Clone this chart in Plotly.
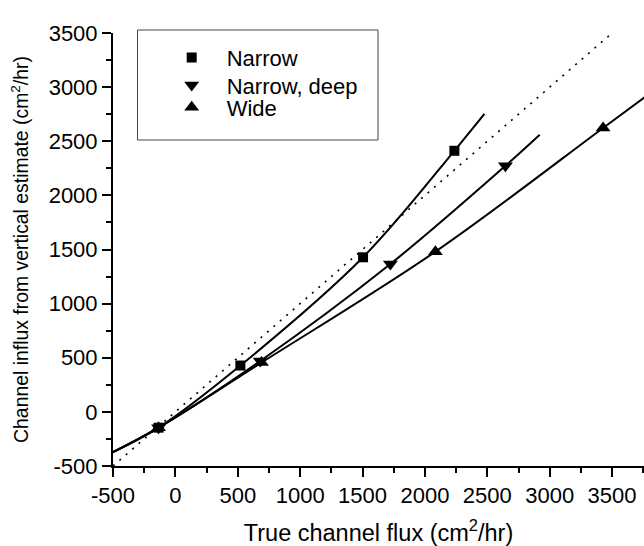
import plotly.graph_objects as go

# Measured points for each channel geometry (true flux vs. vertical estimate), cm^2/hr
narrow_x = [-135, 521, 1504, 2236]
narrow_y = [-146, 428, 1428, 2412]

deep_x = [-135, 680, 1723, 2645]
deep_y = [-146, 470, 1366, 2273]

wide_x = [-135, 690, 2084, 3428]
wide_y = [-146, 455, 1480, 2623]

# Fitted trend curves (sampled along each curve)
narrow_fit_x = [-500, -135, 521, 1504, 2236, 2477]
narrow_fit_y = [-372, -146, 428, 1428, 2412, 2752]

deep_fit_x = [-500, -135, 680, 1723, 2645, 2920]
deep_fit_y = [-372, -146, 470, 1366, 2273, 2560]

wide_fit_x = [-500, -135, 690, 2084, 3428, 3771]
wide_fit_y = [-372, -146, 455, 1480, 2623, 2915]

# 1:1 reference line
one_to_one = [-500, 3500]

# Tick labels (plain hyphen for negatives)
x_tick_vals = [-500, 0, 500, 1000, 1500, 2000, 2500, 3000, 3500]
x_tick_text = ["-500", "0", "500", "1000", "1500", "2000", "2500", "3000", "3500"]
y_tick_vals = [-500, 0, 500, 1000, 1500, 2000, 2500, 3000, 3500]
y_tick_text = ["-500", "0", "500", "1000", "1500", "2000", "2500", "3000", "3500"]

FONT = "Arial, Liberation Sans, sans-serif"
W, H = 644, 546
ML, MR, MT, MB = 113, 0, 33, 80

fig = go.Figure()

fig.add_trace(go.Scatter(x=one_to_one, y=one_to_one, mode="lines",
                         line=dict(color="black", width=1.6, dash="2px,6.5px"),
                         showlegend=False, hoverinfo="skip"))

for fx, fy in [(narrow_fit_x, narrow_fit_y), (deep_fit_x, deep_fit_y), (wide_fit_x, wide_fit_y)]:
    fig.add_trace(go.Scatter(x=fx, y=fy, mode="lines",
                             line=dict(color="black", width=2, shape="spline", smoothing=1.0),
                             showlegend=False, hoverinfo="skip"))

fig.add_trace(go.Scatter(x=narrow_x, y=narrow_y, mode="markers", name="Narrow", legend="legend",
                         marker=dict(symbol="square", size=10, color="black")))
fig.add_trace(go.Scatter(x=deep_x, y=deep_y, mode="markers", name="Narrow, deep", legend="legend2",
                         marker=dict(symbol="triangle-down", size=13, color="black")))
fig.add_trace(go.Scatter(x=wide_x, y=wide_y, mode="markers", name="Wide", legend="legend3",
                         marker=dict(symbol="triangle-up", size=13, color="black")))

plot_w = W - ML - MR
plot_h = H - MT - MB

def px_to_paper(px, py):
    return (px - ML) / plot_w, (H - MB - py) / plot_h

# Legend frame
bx0, by0 = px_to_paper(137.5, 30)
bx1, by1 = px_to_paper(378, 140)
fig.add_shape(type="rect", xref="paper", yref="paper", x0=bx0, y0=by1, x1=bx1, y1=by0,
              line=dict(color="#444444", width=1), fillcolor="rgba(0,0,0,0)")

legend_rows = [57.7, 85.3, 107.5]
LEG_LEFT = 156.7

def legend_cfg(row_py):
    x, y = px_to_paper(LEG_LEFT, row_py)
    return dict(x=x, y=y, xanchor="left", yanchor="middle", bgcolor="rgba(0,0,0,0)",
                borderwidth=0, itemwidth=60,
                font=dict(family=FONT, size=22, color="black"))

TICK_FONT = dict(family=FONT, size=22, color="black")

axis_common = dict(
    showgrid=False, zeroline=False, showline=True, linecolor="black", linewidth=2,
    ticks="outside", ticklen=9, tickwidth=1.8, tickcolor="black",
    tickfont=TICK_FONT, tickmode="array",
    minor=dict(ticks="outside", ticklen=5, tickwidth=1.5, tickcolor="black",
               tickmode="linear", dtick=250, tick0=0, showgrid=False),
)

fig.update_layout(
    width=W, height=H,
    margin=dict(l=ML, r=MR, t=MT, b=MB, autoexpand=False),
    paper_bgcolor="white", plot_bgcolor="white",
    font=dict(family=FONT, size=20, color="black"),
    xaxis=dict(range=[-500, -500 + plot_w / (436.7 / 3500)], automargin=False,
               tickvals=x_tick_vals, ticktext=x_tick_text,
               title=dict(text="True channel flux (cm<sup>2</sup>/hr)",
                          font=dict(family=FONT, size=23.5), standoff=22),
               **axis_common),
    yaxis=dict(range=[-500, 3500], automargin=False,
               tickvals=y_tick_vals, ticktext=y_tick_text,
               title=dict(text="Channel influx from vertical estimate (cm<sup>2</sup>/hr)",
                          font=dict(family=FONT, size=19.4), standoff=15),
               **axis_common),
    legend=legend_cfg(legend_rows[0]),
    legend2=legend_cfg(legend_rows[1]),
    legend3=legend_cfg(legend_rows[2]),
    showlegend=True,
)

fig.write_html("out.html")
